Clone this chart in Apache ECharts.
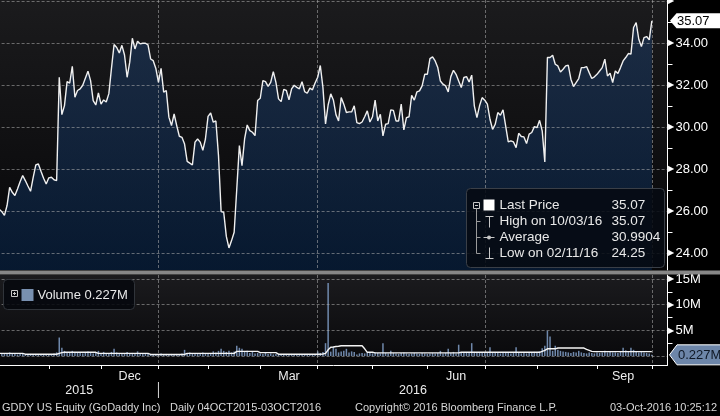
<!DOCTYPE html>
<html><head><meta charset="utf-8">
<script src="https://cdn.jsdelivr.net/npm/echarts@6/dist/echarts.min.js"></script>
<style>html,body{margin:0;padding:0;background:#000;}#c{width:720px;height:416px;}</style>
</head><body><div id="c"></div>
<script>
// ---------- data ----------
const holidays = ['2015-11-26','2015-12-25','2016-01-01','2016-01-18','2016-02-15','2016-03-25','2016-05-30','2016-07-04','2016-09-05'];
const firstTradingDay = '2015-10-05';
const dayCount = 258; // 252 trading days + 6 empty days of right padding

const price = [
26.2,26.1,25.98,25.8,26.27,27.14,26.9,26.75,27.06,27.4,
27.7,27.46,27.2,26.95,27.6,28.2,28.25,27.9,27.57,27.3,
27.59,27.62,27.5,27.46,32.38,30.6,31.03,32.17,32.1,32.9,
31.43,31.75,31.83,32.0,32.33,32.67,32.22,31.27,31.06,31.63,
31.1,31.3,31.2,31.6,32.8,33.94,33.8,33.54,33.9,33.44,
32.38,33.1,34.24,33.73,34.1,33.97,34.0,34.0,33.92,33.25,
33.17,32.8,32.14,32.8,31.67,31.75,30.48,30.08,30.63,30.08,
29.57,29.52,29.2,28.37,28.29,28.2,29.29,29.44,29.29,28.9,
29.44,30.52,30.68,30.24,30.3,28.65,25.98,25.95,24.8,24.25,
24.6,25.0,27.06,29.13,28.17,29.44,30.11,29.84,29.76,29.6,
31.27,31.38,32.22,32.17,31.95,32.14,32.65,32.14,31.35,31.22,
31.8,31.75,31.3,31.83,32.0,31.9,31.83,32.17,31.7,31.62,
31.86,31.78,32.11,32.38,32.94,31.9,30.16,31.06,31.59,31.3,
30.6,30.3,31.41,31.1,30.7,30.73,30.73,31.02,30.22,30.17,
30.25,30.5,30.78,30.25,30.5,31.29,30.3,30.62,29.59,30.14,
30.17,30.83,30.8,30.3,30.3,31.1,29.87,30.46,30.5,31.52,
31.29,31.68,31.73,31.97,32.52,32.52,33.27,33.35,33.16,32.84,
32.2,32.05,31.97,31.68,32.41,32.71,32.52,32.2,31.89,32.37,
32.41,32.16,32.48,31.02,30.46,31.02,31.41,31.29,31.1,30.38,
29.9,30.14,30.7,30.57,30.83,30.06,29.3,29.35,29.3,29.03,
29.71,29.56,29.54,29.22,29.67,29.75,30.03,29.98,30.33,29.83,
28.35,33.32,33.32,33.43,33.0,32.92,32.63,32.76,32.92,32.95,
32.29,31.94,32.13,32.32,32.84,32.84,32.89,32.6,32.32,32.4,
32.52,32.68,32.84,33.24,32.44,32.57,32.13,32.68,32.56,32.84,
33.16,33.32,33.51,33.48,34.75,34.98,34.19,33.84,34.27,34.32,
34.16,35.07
];

// volume in millions
const volume = [
0.5,0.4,0.6,0.5,0.4,0.7,0.5,0.4,0.3,0.5,
0.4,0.3,0.3,0.4,0.3,0.4,0.3,0.3,0.4,0.3,
0.4,0.3,0.5,0.7,3.6,1.6,1.0,0.8,0.6,1.0,
0.7,0.6,0.8,0.5,0.6,0.9,0.6,0.5,0.7,1.0,
0.6,0.8,0.5,0.6,0.8,1.4,0.7,0.5,0.6,0.5,
0.8,0.5,0.6,0.5,0.9,0.5,0.4,0.5,0.4,0.3,
0.3,0.3,0.4,0.5,0.3,0.4,0.3,0.4,0.3,0.4,
0.3,0.5,1.2,0.6,0.7,0.5,0.6,0.5,0.4,0.7,
0.5,0.6,0.5,0.9,0.7,1.0,1.4,1.0,0.8,1.0,
0.7,0.9,2.0,1.6,1.4,0.9,1.0,0.6,0.8,0.5,
0.6,0.5,0.4,0.6,0.4,0.5,0.3,0.4,0.3,0.3,
0.4,0.3,0.3,0.4,0.3,0.3,0.4,0.3,0.3,0.4,
0.3,0.3,0.4,0.9,0.6,0.8,2.5,14.2,0.85,1.8,
1.4,0.7,0.9,1.0,1.4,0.7,0.9,0.8,0.3,0.5,
0.6,0.5,0.7,0.6,0.5,0.7,0.6,0.5,2.5,0.6,
0.5,1.0,0.6,0.5,0.4,0.6,0.7,0.5,0.4,0.5,
0.6,0.5,0.4,0.6,0.5,0.4,0.5,0.6,0.5,0.6,
1.0,0.5,0.6,1.4,0.6,0.8,0.5,2.2,0.6,0.8,
0.7,0.6,2.5,0.8,0.8,0.7,0.7,0.6,0.6,1.7,
0.7,0.8,0.6,0.5,0.6,0.7,0.6,0.5,0.6,1.7,
0.6,0.5,0.6,0.5,0.6,0.7,0.8,0.7,0.9,1.5,
2.0,4.9,3.8,1.0,2.0,1.2,1.0,0.9,0.8,0.7,
0.6,0.8,0.7,1.0,0.7,0.6,0.5,0.7,0.6,0.5,
0.7,0.6,0.7,1.0,0.7,0.8,0.7,0.7,0.6,0.8,
1.6,1.1,0.9,1.6,1.2,0.8,0.7,0.8,0.7,0.6,
0.5,0.227
];

// volume moving-average line (millions)
const volumeAvg = [
0.52,0.52,0.52,0.52,0.52,0.52,0.52,0.52,0.52,0.52,
0.52,0.35,0.35,0.35,0.35,0.35,0.35,0.35,0.35,0.35,
0.35,0.35,0.35,0.35,0.5,0.65,0.72,0.72,0.72,0.72,
0.72,0.72,0.72,0.72,0.72,0.72,0.72,0.72,0.72,0.52,
0.52,0.52,0.52,0.52,0.52,0.52,0.52,0.52,0.52,0.52,
0.52,0.52,0.52,0.52,0.52,0.52,0.52,0.52,0.52,0.3,
0.3,0.3,0.3,0.3,0.3,0.3,0.3,0.3,0.3,0.3,
0.3,0.3,0.3,0.52,0.52,0.52,0.52,0.52,0.52,0.52,
0.52,0.52,0.52,0.52,0.52,0.52,0.52,0.52,0.52,0.52,
0.52,0.52,0.9,0.9,0.9,0.9,0.9,0.9,0.9,0.9,
0.9,0.65,0.65,0.65,0.65,0.65,0.65,0.65,0.35,0.35,
0.35,0.35,0.35,0.35,0.35,0.35,0.35,0.35,0.35,0.35,
0.35,0.35,0.35,0.35,0.35,0.4,0.5,1.2,1.7,1.75,
1.85,1.9,2.0,2.0,2.0,2.0,2.0,2.0,2.0,2.0,
2.0,1.4,0.72,0.72,0.72,0.6,0.6,0.6,0.6,0.6,
0.6,0.6,0.6,0.6,0.6,0.6,0.6,0.6,0.6,0.6,
0.6,0.6,0.6,0.6,0.6,0.6,0.6,0.6,0.6,0.6,
0.6,0.6,0.6,0.6,0.6,0.6,0.6,0.6,0.72,0.72,
0.72,0.72,0.72,0.72,0.72,0.72,0.72,0.72,0.72,0.72,
0.72,0.72,0.72,0.72,0.72,0.72,0.72,0.72,0.72,0.72,
0.72,0.72,0.72,0.72,0.72,0.72,0.72,0.72,0.72,0.9,
1.1,1.4,1.4,1.4,1.4,1.55,1.55,1.55,1.55,1.55,
1.55,1.55,1.55,1.55,1.55,1.55,1.3,1.1,0.9,0.85,
0.85,0.85,0.85,0.85,0.85,0.85,0.85,0.85,0.85,0.85,
0.85,0.85,0.85,0.85,0.85,0.85,0.85,0.85,0.85,0.85,
0.85,0.85
];

const monthNames = ['Jan','Feb','Mar','Apr','May','Jun','Jul','Aug','Sep','Oct','Nov','Dec'];
const labelMonths = [12, 3, 6, 9];      // months whose names are printed
const quarterMonths = [1, 4, 7, 10];    // months that get a vertical grid line
const yearLabels = ['2015', '2016'];
const lastPrice = 35.07, highPrice = 35.07, highDate = '10/03/16';
const avgPrice = '30.9904', lowPrice = '24.25', lowDate = '02/11/16';
const lastVolume = 0.227;
const footerLeft = 'GDDY US Equity (GoDaddy Inc)';
const footerRange = 'Daily 04OCT2015-03OCT2016';
const footerCopy = 'Copyright\u00A9 2016 Bloomberg Finance L.P.';
const footerTime = '03-Oct-2016 10:25:12';

// ---------- categories (trading days) ----------
function buildDays(start, n) {
  const out = [];
  const d = new Date(start + 'T00:00:00Z');
  while (out.length < n) {
    const dow = d.getUTCDay();
    const s = d.toISOString().slice(0, 10);
    if (dow !== 0 && dow !== 6 && holidays.indexOf(s) < 0) out.push(s);
    d.setUTCDate(d.getUTCDate() + 1);
  }
  return out;
}
const days = buildDays(firstTradingDay, dayCount);
const monthOf = s => +s.slice(5, 7);
const monthStarts = [];
for (let i = 1; i < days.length; i++) if (monthOf(days[i]) !== monthOf(days[i - 1])) monthStarts.push(i);
const monthStartSet = new Set(monthStarts);
const quarterSet = new Set(monthStarts.filter(i => quarterMonths.indexOf(monthOf(days[i])) >= 0));
const labelSet = new Set();
for (let k = 0; k < monthStarts.length - 1; k++) {
  const i = monthStarts[k];
  if (labelMonths.indexOf(monthOf(days[i])) >= 0) labelSet.add(Math.floor((i + monthStarts[k + 1]) / 2));
}
const janIdx = monthStarts.find(i => monthOf(days[i]) === 1);

// ---------- chart ----------
const FONT = '"Liberation Sans", Arial, sans-serif';
const LEFT = -3.4, RIGHT = 52.5;
const plotRight = 720 - RIGHT;
const dash = { color: 'rgba(175,175,175,0.55)', width: 1, type: [3, 2] };

const chart = echarts.init(document.getElementById('c'), null, { renderer: 'canvas' });

const arrowLabel = (txt) => '{t|\u25B6}{v|' + txt + '}';
const richArrow = {
  t: { fontSize: 8, color: '#fff', padding: [0, 2, 0, 0], verticalAlign: 'middle' },
  v: { fontSize: 13, color: '#fff', fontFamily: FONT, verticalAlign: 'middle' }
};

chart.setOption({
  backgroundColor: '#000',
  animation: false,
  textStyle: { fontFamily: FONT },
  grid: [
    { left: LEFT, right: RIGHT, top: 0, height: 270, show: true, borderWidth: 0,
      outerBoundsMode: 'none',
      backgroundColor: { type: 'linear', x: 0, y: 0, x2: 0, y2: 1,
        colorStops: [{ offset: 0, color: '#1b1b1d' }, { offset: 1, color: '#060608' }] } },
    { left: LEFT, right: RIGHT, top: 275, height: 90, show: true, borderWidth: 0,
      outerBoundsMode: 'none',
      backgroundColor: { type: 'linear', x: 0, y: 0, x2: 0, y2: 1,
        colorStops: [{ offset: 0, color: '#1b1b1e' }, { offset: 1, color: '#08080a' }] } }
  ],
  xAxis: [
    { type: 'category', gridIndex: 0, data: days, boundaryGap: false, z: 5,
      axisLine: { show: false }, axisTick: { show: false }, axisLabel: { show: false },
      splitLine: { show: true, interval: (i) => quarterSet.has(i), lineStyle: dash } },
    { type: 'category', gridIndex: 1, data: days, boundaryGap: false, z: 5,
      axisLine: { show: true, onZero: false, lineStyle: { color: '#fff', width: 1 } },
      axisTick: { show: true, interval: (i) => monthStartSet.has(i), length: 4, lineStyle: { color: '#fff' } },
      axisLabel: { show: true, interval: (i) => labelSet.has(i), margin: 5, color: '#ececec',
        fontSize: 12.5, fontFamily: FONT, formatter: (v) => monthNames[monthOf(v) - 1] },
      splitLine: { show: true, interval: (i) => quarterSet.has(i), lineStyle: dash } }
  ],
  yAxis: [
    { type: 'value', gridIndex: 0, position: 'right', min: 23.2, max: 36.06, splitNumber: 6, z: 5,
      axisLine: { show: true, lineStyle: { color: '#fff', width: 1 } },
      axisTick: { show: false },
      minorTick: { show: true, splitNumber: 2, length: 5, lineStyle: { color: '#fff', width: 1 } },
      axisLabel: { margin: 0, showMinLabel: false, showMaxLabel: false, rich: richArrow,
        formatter: (v) => v > 35.5 ? '{t|\u25B6}' : arrowLabel(v.toFixed(2)) },
      splitLine: { show: true, showMinLine: false, showMaxLine: false, lineStyle: dash } },
    { type: 'value', gridIndex: 1, position: 'right', min: -1.753, max: 15.78, splitNumber: 3, z: 5,
      axisLine: { show: true, lineStyle: { color: '#fff', width: 1 } },
      axisTick: { show: false },
      minorTick: { show: true, splitNumber: 2, length: 5, lineStyle: { color: '#fff', width: 1 } },
      axisLabel: { margin: 0, showMinLabel: false, showMaxLabel: false, rich: richArrow,
        formatter: (v) => (v > 1 && v < 15.5) ? arrowLabel(Math.round(v) + 'M') : '' },
      splitLine: { show: true, showMinLine: false, showMaxLine: false, lineStyle: dash } }
  ],
  series: [
    { type: 'line', xAxisIndex: 0, yAxisIndex: 0, data: price, showSymbol: false, z: 1,
      lineStyle: { width: 0 },
      areaStyle: { color: { type: 'linear', x: 0, y: 0, x2: 0, y2: 1,
        colorStops: [{ offset: 0, color: 'rgba(30,58,98,0.82)' }, { offset: 1, color: 'rgba(7,38,76,0.82)' }] } } },
    { type: 'line', xAxisIndex: 0, yAxisIndex: 0, data: price, showSymbol: false, z: 10,
      lineStyle: { color: '#f0f0f0', width: 1.4 } },
    { type: 'bar', xAxisIndex: 1, yAxisIndex: 1, data: volume, barWidth: '58%', z: 3,
      itemStyle: { color: '#6f88ab' } },
    { type: 'line', xAxisIndex: 1, yAxisIndex: 1, data: volumeAvg, showSymbol: false, z: 10,
      lineStyle: { color: '#f4f4f4', width: 1.4 } }
  ]
});

// ---------- overlays positioned through the chart's own scales ----------
const xJan = chart.convertToPixel({ xAxisIndex: 1 }, janIdx);
const yP = chart.convertToPixel({ yAxisIndex: 0 }, lastPrice);
const yV = chart.convertToPixel({ yAxisIndex: 1 }, lastVolume);
const Z = 100;
const txt = (x, y, text, o) => Object.assign({ type: 'text', x: x, y: y, z: Z,
  style: Object.assign({ text: text, fill: '#e8e8e8', fontSize: 13, fontFamily: FONT,
    align: 'left', verticalAlign: 'middle' }, o || {}) });
const ln = (x1, y1, x2, y2, c, w) => ({ type: 'line', z: Z,
  shape: { x1: x1, y1: y1, x2: x2, y2: y2 }, style: { stroke: c || '#c8c8c8', lineWidth: w || 1 } });

const priceLegend = {
  type: 'group', x: 466.5, y: 188.5, children: [
    { type: 'rect', z: Z - 1, shape: { x: 0, y: 0, width: 198, height: 79, r: 4 },
      style: { fill: 'rgba(6,10,18,0.88)', stroke: '#3a3f47', lineWidth: 1 } },
    { type: 'rect', z: Z, shape: { x: 7, y: 14, width: 6, height: 6 }, style: { fill: 'none', stroke: '#c8c8c8' } },
    ln(8.5, 17, 11.5, 17),
    ln(10, 20, 10, 65, '#9a9a9a'), ln(10, 33, 14, 33, '#9a9a9a'), ln(10, 49, 14, 49, '#9a9a9a'), ln(10, 65, 14, 65, '#9a9a9a'),
    { type: 'rect', z: Z, shape: { x: 17, y: 11, width: 11, height: 11 }, style: { fill: '#ffffff' } },
    ln(19, 28, 27, 28), ln(23, 28, 23, 39),
    ln(17, 49, 28, 49), { type: 'circle', z: Z, shape: { cx: 22.5, cy: 49, r: 2 }, style: { fill: '#c8c8c8' } },
    ln(23, 59, 23, 70), ln(19, 70, 27, 70),
    txt(33, 17, 'Last Price', { fontSize: 13.5 }),
    txt(33, 33, 'High on ' + highDate, { fontSize: 13.5 }),
    txt(33, 49, 'Average', { fontSize: 13.5 }),
    txt(33, 65, 'Low on ' + lowDate, { fontSize: 13.5 }),
    txt(145, 17, lastPrice.toFixed(2), { fontSize: 13.5 }),
    txt(145, 33, highPrice.toFixed(2), { fontSize: 13.5 }),
    txt(145, 49, avgPrice, { fontSize: 13.5 }),
    txt(145, 65, lowPrice, { fontSize: 13.5 })
  ]
};

const volLegend = {
  type: 'group', x: 3.5, y: 279.5, children: [
    { type: 'rect', z: Z - 1, shape: { x: 0, y: 0, width: 131, height: 30, r: 4 },
      style: { fill: 'rgba(6,8,14,0.88)', stroke: '#30343a', lineWidth: 1 } },
    { type: 'rect', z: Z, shape: { x: 8, y: 11, width: 6, height: 6 }, style: { fill: 'none', stroke: '#c8c8c8' } },
    ln(9.5, 14, 12.5, 14), ln(11, 12.5, 11, 15.5),
    { type: 'rect', z: Z, shape: { x: 18, y: 9.5, width: 12, height: 12 }, style: { fill: '#7890b0' } },
    txt(34, 16, 'Volume ' + lastVolume.toFixed(3) + 'M', { fontSize: 13 })
  ]
};

chart.setOption({
  graphic: [
    { type: 'rect', z: 50, shape: { x: 0, y: 270.5, width: 720, height: 4 }, style: { fill: '#878787' } },
    priceLegend,
    volLegend,
    { type: 'polygon', z: Z, shape: { points: [[670, yP], [676.5, yP - 7.5], [721, yP - 7.5], [721, yP + 7.5], [676.5, yP + 7.5]] },
      style: { fill: '#ffffff' } },
    txt(677, yP + 0.5, lastPrice.toFixed(2), { fill: '#000', fontSize: 13 }),
    { type: 'polygon', z: Z, shape: { points: [[669.5, yV], [677, yV - 10], [721, yV - 10], [721, yV + 10], [677, yV + 10]] },
      style: { fill: '#6d86a9', stroke: '#ffffff', lineWidth: 1 } },
    txt(678, yV + 0.5, lastVolume.toFixed(3) + 'M', { fill: '#0f1826', fontSize: 13 }),
    ln(xJan, 382, xJan, 398, '#d8d8d8'),
    txt(xJan / 2, 391, yearLabels[0], { align: 'center', fontSize: 12.5, fill: '#ececec' }),
    txt((xJan + plotRight) / 2, 391, yearLabels[1], { align: 'center', fontSize: 12.5, fill: '#ececec' }),
    txt(2, 408, footerLeft, { fontSize: 11, fill: '#d8d8d8' }),
    txt(170, 408, footerRange, { fontSize: 11, fill: '#d8d8d8' }),
    txt(355, 408, footerCopy, { fontSize: 11, fill: '#d8d8d8' }),
    txt(717, 408, footerTime, { fontSize: 11, fill: '#d8d8d8', align: 'right' })
  ]
});
</script>
</body></html>
